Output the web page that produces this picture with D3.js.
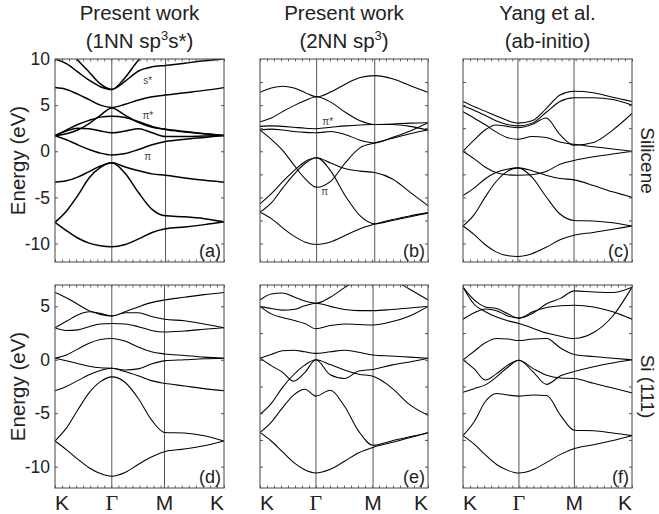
<!DOCTYPE html>
<html><head><meta charset="utf-8">
<script src="https://cdn.jsdelivr.net/npm/d3@7"></script>
<style>body{margin:0;background:#fff}</style>
</head><body><svg id="c" width="659" height="514"></svg>
<script>
// ---------- data ----------
const kGrid = [0,0.2,0.4,0.6,0.8,1,1.25,1.5,1.75,2,2.333,2.667,3]; // K..Γ..M..K path coordinate
const kLabels = ["K","Γ","M","K"];
const panelLetters = ["(a)","(b)","(c)","(d)","(e)","(f)"];
const gammaFrac = [0.336,0.337,0.325,0.336,0.333,0.331];
const mFrac = [0.654,0.683,0.657,0.648,0.673,0.659];
const energyDomainTop = [-12,10];
const energyDomainBottom = [-12,7];
const labelTicksTop = [10,5,0,-5,-10];
const labelTicksBottom = [5,0,-5,-10];
const minorTicksTop = [7.5,5,2.5,0,-2.5,-5,-7.5,-10];
const minorTicksBottom = [5,2.5,0,-2.5,-5,-7.5,-10];
const titleLine1 = ["Present work","Present work","Yang et al."];
const titleLine2 = [[["(1NN sp",0],["3",1],["s*)",0]],[["(2NN sp",0],["3",1],[")",0]],[["(ab-initio)",0]]];
const rowLabels = ["Silicene","Si (111)"];

const bandsA = [
 [-7.7,-8.6,-9.4,-9.95,-10.25,-10.35,-10.1,-9.5,-8.8,-8.4,-8.2,-7.95,-7.65],
 [-7.7,-6.5,-4.8,-2.9,-1.75,-1.25,-2.4,-4.5,-6.3,-7.0,-7.1,-7.3,-7.65],
 [-3.35,-3.2,-2.8,-2.2,-1.6,-1.25,-1.7,-2.1,-2.45,-2.6,-2.9,-3.15,-3.35],
 [1.7,1.25,0.7,0.2,-0.2,-0.4,-0.25,0.2,0.7,1.05,1.3,1.5,1.7],
 [1.7,2.2,2.5,2.45,2.2,2.0,2.2,2.45,2.0,1.6,1.6,1.65,1.7],
 [1.7,2.3,2.9,3.35,3.7,3.8,3.65,3.2,2.7,2.35,2.1,1.9,1.7],
 [1.7,1.9,2.3,3.0,3.9,4.7,3.9,3.1,2.6,2.4,2.15,1.9,1.7],
 [6.9,6.7,6.2,5.6,5.0,4.75,5.1,5.55,5.9,6.1,6.35,6.6,6.9],
 [10.0,9.5,8.6,7.7,7.0,6.7,7.6,8.7,9.15,9.3,9.55,9.8,10.0],
 [12.5,11.6,9.9,8.6,7.3,6.7,8.0,9.9,11.0,11.8,12,12,12]
];
const bandsB = [
 [-6.6,-7.3,-8.3,-9.2,-9.85,-10.1,-9.8,-9.1,-8.4,-7.9,-7.4,-7.0,-6.65],
 [-6.6,-5.6,-4.0,-2.5,-1.3,-0.7,-2.2,-4.9,-7.0,-7.85,-7.5,-7.1,-6.7],
 [-5.7,-4.6,-3.3,-2.1,-1.1,-0.7,-1.3,-1.9,-2.15,-2.3,-3.0,-4.45,-5.9],
 [2.3,1.3,0.1,-1.5,-3.0,-3.9,-3.2,-1.2,0.4,0.9,1.4,1.9,2.3],
 [2.3,2.4,2.3,2.15,2.05,2.0,2.15,1.8,1.2,0.9,1.5,2.2,3.1],
 [2.7,2.75,2.7,2.6,2.5,2.45,2.6,2.75,2.85,2.9,2.9,2.7,2.3],
 [3.2,3.6,4.3,4.95,5.5,5.9,5.3,4.2,3.3,2.9,2.95,3.05,3.1],
 [6.4,6.85,7.05,6.85,6.35,5.9,6.45,7.3,8.0,8.2,7.85,7.1,6.4]
];
const bandsC = [
 [-8.1,-9.0,-10.1,-10.9,-11.3,-11.4,-11.1,-10.4,-9.6,-9.1,-8.8,-8.45,-8.1],
 [-8.1,-6.9,-5.0,-3.3,-2.2,-1.8,-2.8,-4.9,-6.8,-7.5,-7.55,-7.75,-8.1],
 [-4.8,-4.0,-3.0,-2.3,-1.95,-1.8,-2.1,-2.6,-2.95,-3.1,-3.7,-4.4,-5.0],
 [0,-0.8,-1.7,-2.3,-2.55,-2.6,-2.55,-2.2,-1.4,-1.0,-0.6,-0.3,0],
 [0,1.2,2.3,2.85,2.7,2.55,2.9,3.6,1.8,0.65,0.95,2.3,4.1],
 [4.3,3.6,2.9,2.1,1.5,1.3,1.6,1.5,1.0,0.75,0.5,0.25,0],
 [5.4,4.85,4.35,3.85,3.35,3.05,3.3,4.6,6.1,6.5,6.35,5.85,5.4],
 [4.9,4.45,3.9,3.3,2.9,2.75,3.05,4.2,5.4,5.8,5.8,5.6,5.0]
];
const bandsD = [
 [-7.6,-8.4,-9.3,-10.1,-10.65,-10.9,-10.55,-9.8,-9.1,-8.6,-8.35,-8.05,-7.6],
 [-7.6,-6.4,-4.7,-3.1,-2.05,-1.6,-2.1,-3.6,-5.6,-6.8,-6.85,-7.1,-7.6],
 [-2.9,-2.5,-1.95,-1.4,-1.0,-0.8,-1.1,-1.5,-1.95,-2.2,-2.45,-2.7,-2.9],
 [0.15,-0.1,-0.35,-0.6,-0.75,-0.8,-0.95,-0.85,-0.4,-0.1,0.0,0.1,0.15],
 [0.15,0.45,1.0,1.55,1.9,2.0,1.75,1.2,0.75,0.55,0.4,0.25,0.15],
 [3.0,2.75,2.8,3.1,3.35,3.4,3.35,3.1,2.75,2.6,2.7,2.85,3.0],
 [3.0,3.6,4.2,4.5,4.35,4.1,4.4,4.4,4.05,3.8,3.65,3.35,3.0],
 [6.3,5.8,5.2,4.6,4.25,4.1,4.5,4.95,5.35,5.6,5.85,6.1,6.3]
];
const bandsE = [
 [-6.8,-7.6,-8.6,-9.6,-10.3,-10.6,-10.25,-9.5,-8.7,-8.2,-7.75,-7.3,-6.8],
 [-6.8,-5.85,-4.5,-3.3,-2.75,-3.4,-2.85,-4.35,-6.7,-8.0,-7.6,-7.2,-6.85],
 [-5.1,-4.1,-2.6,-1.4,-0.5,0,-0.45,-0.95,-1.35,-1.55,-2.6,-4.2,-5.2],
 [0.15,-0.55,-1.15,-2.0,-1.2,0,-1.4,-1.75,-1.05,-0.9,-0.5,-0.2,0.15],
 [0.15,0.5,0.85,0.9,0.75,0.6,0.75,0.9,0.7,0.45,0.35,0.25,0.15],
 [5.0,4.3,3.95,3.7,3.4,2.9,3.2,3.35,3.3,3.25,3.55,4.1,5.0],
 [5.0,4.8,4.65,4.7,5.05,5.3,5.0,4.7,4.6,4.6,4.7,4.85,5.0],
 [5.6,6.15,6.25,5.9,5.5,5.3,5.85,6.75,7.6,8.2,7.6,6.6,5.6]
];
const bandsF = [
 [-7.1,-7.9,-8.9,-9.8,-10.35,-10.6,-10.3,-9.6,-8.85,-8.3,-7.95,-7.55,-7.1],
 [-7.1,-5.8,-3.9,-3.15,-3.3,-3.4,-3.3,-3.35,-5.2,-6.6,-6.65,-6.85,-7.1],
 [-3.05,-2.7,-2.35,-1.6,-0.7,-0.05,-0.8,-1.45,-1.7,-1.75,-2.2,-2.65,-3.1],
 [0,-0.85,-1.9,-1.3,-0.5,-0.05,-1.1,-2.3,-1.5,-1.1,-0.65,-0.3,0],
 [0,0.8,1.6,2.0,1.95,1.8,1.95,2.0,1.1,0.5,0.3,0.15,0],
 [3.8,4.4,4.75,4.6,4.1,3.9,4.35,5.25,5.75,6.45,6.35,6.3,6.8],
 [6.8,5.6,4.95,4.8,4.3,3.9,4.5,4.9,5.05,5.1,4.95,4.5,3.8],
 [6.8,5.2,4.5,4.0,3.65,3.4,2.95,2.5,2.2,2.0,2.55,4.1,6.8]
];
const allBands = [bandsA,bandsB,bandsC,bandsD,bandsE,bandsF];
// band annotations: [panel, k, energy, text]
const bandNotes = [[0,1.67,7.7,"s*"],[0,1.67,3.9,"π*"],[0,1.67,-0.6,"π"],[1,1.19,3.2,"π*"],[1,1.14,-4.4,"π"]];

// ---------- layout ----------
const svg = d3.select("#c");
const cols = [[55,224],[260,428],[463,632]];
const rows = [[59,262],[285,488]];
const sans = "'Liberation Sans', Arial, Helvetica, sans-serif";
const defs = svg.append("defs");

allBands.forEach((bands,i)=>{
  const c = i%3, r = Math.floor(i/3);
  const [x0,x1] = cols[c], [y0,y1] = rows[r];
  const w = x1-x0;
  const x = d3.scaleLinear().domain([0,1,2,3]).range([x0, x0+gammaFrac[i]*w, x0+mFrac[i]*w, x1]);
  const y = d3.scaleLinear().domain(r===0?energyDomainTop:energyDomainBottom).range([y1,y0]);
  const g = svg.append("g");
  defs.append("clipPath").attr("id","clip"+i).append("rect")
    .attr("x",x0).attr("y",y0).attr("width",w).attr("height",y1-y0);
  // high-symmetry lines
  g.selectAll(".hs").data([1,2]).enter().append("line")
    .attr("x1",d=>x(d)).attr("x2",d=>x(d)).attr("y1",y0).attr("y2",y1)
    .attr("stroke","#555").attr("stroke-width",1);
  // bands
  const line = d3.line().x((d,j)=>x(kGrid[j])).y(d=>y(d)).curve(d3.curveMonotoneX);
  g.append("g").attr("clip-path","url(#clip"+i+")").selectAll("path").data(bands).enter().append("path")
    .attr("d",line).attr("fill","none").attr("stroke","#000")
    .attr("stroke-width", i===0?1.5:1.05);
  // axes ticks
  const lt = c===0 ? (r===0?labelTicksTop:labelTicksBottom) : (r===0?minorTicksTop:minorTicksBottom);
  const left = d3.axisLeft(y).tickValues(lt).tickSize(-3).tickPadding(5)
     .tickFormat(c===0? (d=>String(d)) : (()=>""));
  const la = g.append("g").attr("transform",`translate(${x0},0)`).call(left);
  la.select(".domain").remove();
  la.selectAll("text").attr("font-family",sans).attr("font-size",17.5).attr("fill","#222");
  la.selectAll("line").attr("stroke","#555");
  const ra = g.append("g").attr("transform",`translate(${x1},0)`).call(d3.axisRight(y).tickValues(lt).tickSize(-3).tickFormat(()=>""));
  ra.select(".domain").remove(); ra.selectAll("line").attr("stroke","#555");
  const xl = d3.scaleLinear().domain([0,1]).range([x0,x1]);
  const mt = d3.range(0,1.0001,1/24);
  const ta = g.append("g").attr("transform",`translate(0,${y0})`).call(d3.axisTop(xl).tickValues(mt).tickSize(-2.5).tickFormat(()=>""));
  const ba = g.append("g").attr("transform",`translate(0,${y1})`).call(d3.axisBottom(xl).tickValues(mt).tickSize(-2.5).tickFormat(()=>""));
  [ta,ba].forEach(a=>{a.select(".domain").remove(); a.selectAll("line").attr("stroke","#666");});
  // frame
  g.append("rect").attr("x",x0).attr("y",y0).attr("width",w).attr("height",y1-y0)
    .attr("fill","none").attr("stroke","#444").attr("stroke-width",1);
  // panel letter
  g.append("text").attr("x",x1-3).attr("y",y1-5).attr("text-anchor","end")
    .attr("font-family",sans).attr("font-size",18).attr("fill","#222").text(panelLetters[i]);
  // k labels
  if(r===1){
    [0,1,2,3].forEach(k=>{
      g.append("text").attr("x",x(k)).attr("y",y1+22)
       .attr("text-anchor",k===0?"start":k===3?"end":"middle")
       .attr("font-family",k===1?"'Liberation Serif', 'Times New Roman', serif":sans)
       .attr("font-size",k===1?22:21).attr("fill","#222").text(kLabels[k]);
    });
  }
  // band notes
  bandNotes.filter(n=>n[0]===i).forEach(n=>{
    g.append("text").attr("x",x(n[1])).attr("y",y(n[2])).attr("dy","0.35em").attr("text-anchor","middle")
     .attr("font-family",sans).attr("font-size",10).attr("fill","#444").text(n[3]);
  });
  // titles
  if(r===0){
    const cx = (x0+x1)/2;
    svg.append("text").attr("x",cx).attr("y",20).attr("text-anchor","middle")
      .attr("font-family",sans).attr("font-size",20.5).attr("fill","#222").text(titleLine1[c]);
    const t2 = svg.append("text").attr("x",cx).attr("y",48).attr("text-anchor","middle")
      .attr("font-family",sans).attr("font-size",20.5).attr("fill","#222");
    let prevSup = 0;
    titleLine2[c].forEach(([s,sup])=>{
      const ts = t2.append("tspan").text(s);
      if(sup){ ts.attr("font-size",13).attr("dy",-8); }
      else if(prevSup){ ts.attr("dy",8); }
      prevSup = sup;
    });
  }
});

// axis titles
rows.forEach((rw,r)=>{
  const cy = (rw[0]+rw[1])/2;
  svg.append("text").attr("transform",`translate(25,${cy}) rotate(-90)`).attr("text-anchor","middle")
    .attr("font-family",sans).attr("font-size",20.5).attr("fill","#222").text("Energy (eV)");
  svg.append("text").attr("transform",`translate(641,${cy}) rotate(90)`).attr("text-anchor","middle")
    .attr("font-family",sans).attr("font-size",19).attr("fill","#222").text(rowLabels[r]);
});
</script></body></html>
